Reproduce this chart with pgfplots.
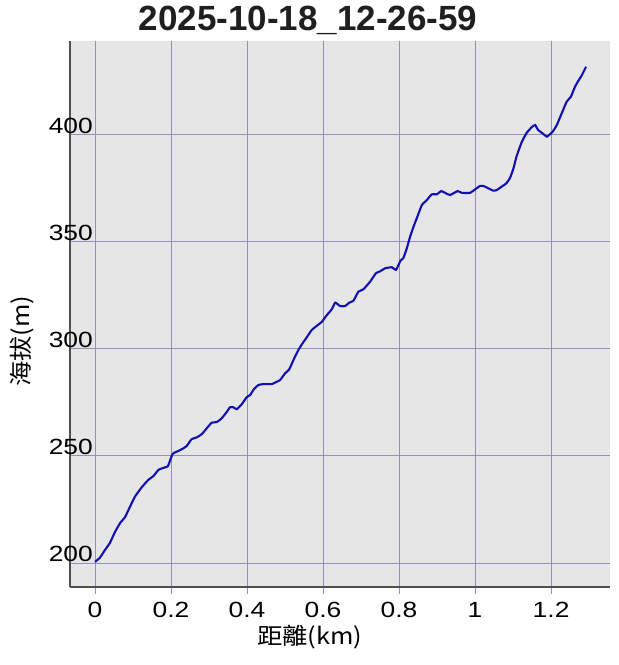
\documentclass[border=0pt]{standalone}
\usepackage{pgfplots}
\pgfplotsset{compat=1.18}
\usepackage{fontspec}
\setmainfont{Liberation Sans}[FakeStretch=1.2]
\newfontfamily\titlefont{Liberation Sans}
\newfontfamily\cjk{Noto Sans CJK TC}[FakeStretch=1.1]

\definecolor{bggrey}{RGB}{230,230,230}
\definecolor{gridcol}{RGB}{145,145,188}
\definecolor{linecol}{RGB}{16,16,178}
\definecolor{axcol}{RGB}{80,80,80}

\begin{document}
\begin{tikzpicture}
\begin{axis}[
  width=540pt, height=546pt, scale only axis,
  xmin=-0.0658, xmax=1.355,
  ymin=188.8, ymax=443.4,
  xtick={0,0.2,0.4,0.6,0.8,1,1.2},
  xticklabels={0,0.2,0.4,0.6,0.8,1,1.2},
  ytick={200,250,300,350,400},
  axis x line*=bottom, axis y line*=left,
  axis line style={-, draw=axcol, line width=1.3pt},
  axis background/.style={fill=bggrey},
  grid=major,
  major grid style={draw=gridcol, line width=0.9pt},
  tick align=outside,
  major tick length=7pt,
  xtick style={draw=gridcol, line width=0.9pt},
  ytick style={draw=none},
  /pgf/number format/assume math mode=true,
  ticklabel style={font=\fontsize{22}{24}\selectfont, text=black},
  xticklabel style={yshift=-7pt, inner sep=1pt},
  yticklabel style={anchor=base east, inner sep=0pt, xshift=30pt, yshift=1pt},
  title={\titlefont\bfseries\fontsize{35}{38}\selectfont 2025-10-18\_12-26-59},
  title style={at={(axis description cs:0.441,1.026)}, anchor=center, text=black!88},
  xlabel={\cjk\fontsize{23}{26}\selectfont 距離(km)},
  xlabel style={at={(axis description cs:0.444,-0.091)}, anchor=center, inner sep=0pt},
  ylabel={\cjk\fontsize{23}{26}\selectfont 海拔(m)},
  ylabel style={at={(axis description cs:-0.089,0.45)}, anchor=center},
]
\addplot[color=linecol, line width=2.1pt, smooth, tension=0.3] coordinates {
(0.000,200.5)(0.013,202.5)(0.026,206.0)(0.039,209.3)(0.053,214.6)(0.066,218.6)
(0.079,221.4)(0.092,226.2)(0.105,230.9)(0.123,235.3)(0.140,238.7)(0.154,240.6)
(0.167,243.4)(0.184,244.6)(0.192,245.2)(0.204,250.8)(0.215,251.9)(0.228,253.0)
(0.241,254.5)(0.254,257.7)(0.268,258.6)(0.281,260.1)(0.294,262.8)(0.307,265.4)
(0.320,265.7)(0.333,267.4)(0.347,270.5)(0.355,272.6)(0.364,272.6)(0.373,271.7)
(0.386,274.0)(0.399,277.3)(0.408,278.3)(0.418,281.0)(0.430,283.0)(0.443,283.4)
(0.465,283.4)(0.478,284.5)(0.487,285.3)(0.500,288.4)(0.511,290.3)(0.522,294.6)
(0.535,299.3)(0.546,302.4)(0.557,305.2)(0.570,308.6)(0.583,310.5)(0.597,312.5)
(0.610,315.6)(0.623,318.3)(0.632,321.4)(0.645,319.8)(0.658,319.8)(0.669,321.4)
(0.680,322.3)(0.693,326.5)(0.706,327.6)(0.724,331.2)(0.739,335.1)(0.750,336.0)
(0.763,337.4)(0.781,337.9)(0.792,336.7)(0.804,341.0)(0.811,342.1)(0.820,346.5)
(0.829,352.1)(0.838,356.8)(0.848,361.4)(0.860,366.9)(0.873,369.2)(0.886,371.9)
(0.899,371.9)(0.911,373.4)(0.921,372.6)(0.934,371.6)(0.954,373.4)(0.965,372.6)
(0.987,372.6)(1.000,374.2)(1.013,375.8)(1.022,375.8)(1.035,374.7)(1.048,373.6)
(1.057,373.9)(1.070,375.5)(1.082,377.0)(1.092,379.6)(1.101,384.0)(1.109,389.5)
(1.123,396.4)(1.136,400.6)(1.149,403.2)(1.158,404.2)(1.166,401.9)(1.180,400.0)
(1.189,398.8)(1.204,401.1)(1.215,404.2)(1.228,409.7)(1.241,415.1)(1.252,417.4)
(1.263,422.1)(1.272,424.9)(1.281,427.5)(1.292,431.4)
};
\end{axis}
\pgfresetboundingbox
\path (current axis.south west) ++(-70pt,-78pt) rectangle ++(619pt,665pt);
\end{tikzpicture}
\end{document}
